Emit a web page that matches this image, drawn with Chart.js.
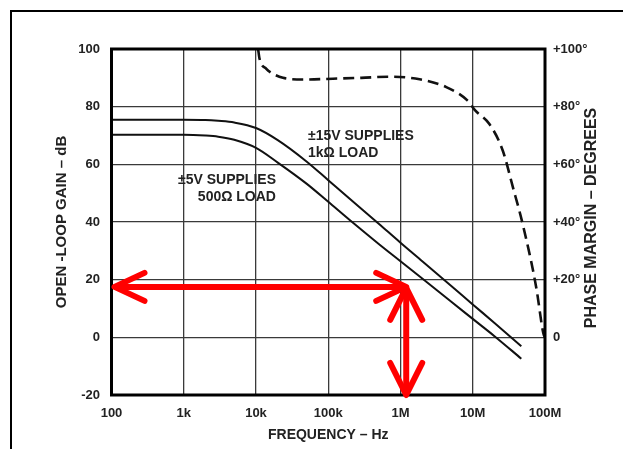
<!DOCTYPE html>
<html lang="en">
<head>
<meta charset="UTF-8">
<title>Open-Loop Gain and Phase Margin vs Frequency</title>
<script src="https://cdn.jsdelivr.net/npm/chart.js"></script>
<style>
  body { margin: 0; background: #fff; overflow: hidden; }
  .sheet { position: relative; width: 623px; height: 449px; }
  .sheet::before {
    content: '';
    position: absolute;
    left: 10px; top: 10px; right: -10px; bottom: -10px;
    border-left: 2.5px solid #000;
    border-top: 2.5px solid #000;
  }
  canvas { position: absolute; left: 0; top: 0; }
</style>
</head>
<body>
<div class="sheet">
  <canvas id="bode" width="623" height="449"></canvas>
</div>
<script>
// x axis decades and their labels
const xTicks = [1e2, 1e3, 1e4, 1e5, 1e6, 1e7, 1e8];
const xTickLabels = ['100', '1k', '10k', '100k', '1M', '10M', '100M'];

// open-loop gain (dB)
const gainFreq = [100, 1000, 2000, 3000, 5000, 1e4, 2e4, 5e4, 1e5, 2e5, 5e5, 1e6, 2e6, 5e6, 1e7, 2e7, 4.7e7];
const gain15V  = [75.5, 75.5, 75.4, 75.1, 74.5, 72.6, 68.4, 61.0, 54.5, 48.0, 39.4, 32.8, 26.4, 17.9, 11.4, 5.0, -3.1];
const gain5V   = [70.3, 70.3, 70.0, 69.6, 68.5, 65.7, 60.6, 53.3, 47.0, 40.6, 32.4, 26.4, 20.4, 12.4, 6.4, 0.4, -7.4];

// phase margin (degrees), dashed curve
const phaseFreq = [10700, 11200, 13900, 17200, 23600, 44700, 116000, 287000, 708000, 1.84e6, 4.3e6, 8.5e6, 1.08e7, 1.7e7, 2.6e7, 3.6e7, 4.9e7, 7.55e7, 9.5e7, 1e8];
const phaseDeg  = [100, 96.6, 93.1, 91.4, 90.0, 89.4, 89.7, 90.0, 90.4, 89.5, 86.8, 82.1, 78.7, 74.0, 64.8, 52.0, 39.4, 17.4, 1.3, 0];

// red marker arrows (frequency, gain)
const markFreq = 1.2e6;
const markGain = 17.5;

const ink = '#222';
const family = "'Liberation Sans', Arial, sans-serif";

const toPoints = (xs, ys) => xs.map((x, i) => ({ x: x, y: ys[i] }));

const notes = [
  { lines: ['\u00b115V SUPPLIES', '1k\u03a9 LOAD'], freq: 5.25e4, db: 69.7, align: 'left' },
  { lines: ['\u00b15V SUPPLIES', '500\u03a9 LOAD'], freq: 1.89e4, db: 54.5, align: 'right' }
];

function arrowHead(ctx, x, y, dx, dy, w, l) {
  // open chevron, tip at (x, y), pointing along (dx, dy)
  ctx.beginPath();
  ctx.moveTo(x - dx * l - dy * w, y - dy * l - dx * w);
  ctx.lineTo(x, y);
  ctx.lineTo(x - dx * l + dy * w, y - dy * l + dx * w);
  ctx.stroke();
}

const extras = {
  id: 'extras',
  afterDatasetsDraw(chart) {
    const { ctx, chartArea: a, scales } = chart;
    const sx = scales.x, sy = scales.y;
    ctx.save();

    // plot frame
    ctx.strokeStyle = '#000';
    ctx.lineWidth = 3;
    ctx.strokeRect(a.left, a.top, a.right - a.left, a.bottom - a.top);

    // curve labels
    ctx.fillStyle = ink;
    ctx.font = 'bold 14px ' + family;
    ctx.textBaseline = 'middle';
    notes.forEach(n => {
      ctx.textAlign = n.align;
      const x = sx.getPixelForValue(n.freq);
      const y = sy.getPixelForValue(n.db);
      n.lines.forEach((t, i) => ctx.fillText(t, x, y + i * 16.5));
    });

    // red arrows
    const mx = sx.getPixelForValue(markFreq);
    const my = sy.getPixelForValue(markGain);
    const left = a.left + 3;
    ctx.strokeStyle = '#ff0000';
    ctx.lineWidth = 6;
    ctx.lineCap = 'round';
    ctx.lineJoin = 'round';
    ctx.beginPath();
    ctx.moveTo(left + 2, my);
    ctx.lineTo(mx - 2, my);
    ctx.stroke();
    arrowHead(ctx, left, my, -1, 0, 14, 30);
    arrowHead(ctx, mx, my, 1, 0, 14, 30);

    ctx.beginPath();
    ctx.moveTo(mx, my + 3);
    ctx.lineTo(mx, a.bottom - 2);
    ctx.stroke();
    arrowHead(ctx, mx, my + 1, 0, -1, 16, 32);
    arrowHead(ctx, mx, a.bottom, 0, 1, 16, 32);

    ctx.restore();
  },
  afterDraw(chart) {
    // right axis title reads bottom-to-top like the left one
    const { ctx, chartArea: a } = chart;
    ctx.save();
    ctx.translate(592, (a.top + a.bottom) / 2 - 4);
    ctx.rotate(-Math.PI / 2);
    ctx.fillStyle = ink;
    ctx.font = 'bold 16px ' + family;
    ctx.textAlign = 'center';
    ctx.textBaseline = 'middle';
    ctx.fillText('PHASE MARGIN \u2013 DEGREES', 0, 0);
    ctx.restore();
  }
};

const tickFont = { family: family, size: 13, weight: 'bold' };
const gridStyle = { color: '#3a3a3a', lineWidth: 1.3, drawTicks: false };

new Chart(document.getElementById('bode'), {
  type: 'line',
  data: {
    datasets: [
      {
        label: '\u00b115V supplies, 1k\u03a9 load',
        data: toPoints(gainFreq, gain15V),
        yAxisID: 'y',
        borderColor: '#111',
        borderWidth: 2,
        pointRadius: 0,
        cubicInterpolationMode: 'monotone'
      },
      {
        label: '\u00b15V supplies, 500\u03a9 load',
        data: toPoints(gainFreq, gain5V),
        yAxisID: 'y',
        borderColor: '#111',
        borderWidth: 2,
        pointRadius: 0,
        cubicInterpolationMode: 'monotone'
      },
      {
        label: 'Phase margin',
        data: toPoints(phaseFreq, phaseDeg),
        yAxisID: 'y2',
        borderColor: '#111',
        borderWidth: 2.6,
        borderDash: [11, 6],
        pointRadius: 0,
        cubicInterpolationMode: 'monotone'
      }
    ]
  },
  options: {
    responsive: false,
    animation: false,
    devicePixelRatio: 1,
    layout: { padding: { top: 49, left: 0, right: 0, bottom: 0 } },
    plugins: {
      legend: { display: false },
      tooltip: { enabled: false }
    },
    scales: {
      x: {
        type: 'logarithmic',
        min: 1e2,
        max: 1e8,
        afterBuildTicks: s => { s.ticks = xTicks.map(v => ({ value: v })); },
        afterFit: s => { s.height = 54; },
        grid: gridStyle,
        border: { display: false },
        ticks: {
          autoSkip: false,
          maxRotation: 0,
          padding: 11,
          color: ink,
          font: tickFont,
          callback: v => xTickLabels[xTicks.indexOf(v)]
        },
        title: {
          display: true,
          text: 'FREQUENCY \u2013 Hz',
          color: ink,
          font: { family: family, size: 14, weight: 'bold' },
          padding: { top: 0, bottom: 5 }
        }
      },
      y: {
        position: 'left',
        min: -20,
        max: 100,
        afterFit: s => { s.width = 111.5; },
        grid: gridStyle,
        border: { display: false },
        ticks: { stepSize: 20, padding: 11.5, color: ink, font: tickFont },
        title: {
          display: true,
          text: 'OPEN -LOOP GAIN \u2013 dB',
          color: ink,
          font: { family: family, size: 15, weight: 'bold' },
          padding: { top: 53, bottom: 0 }
        }
      },
      y2: {
        position: 'right',
        min: -20,
        max: 100,
        afterFit: s => { s.width = 78; },
        grid: { drawOnChartArea: false, drawTicks: false },
        border: { display: false },
        ticks: {
          stepSize: 20,
          padding: 8,
          color: ink,
          font: tickFont,
          callback: v => v < 0 ? '' : (v === 0 ? '0' : '+' + v + '\u00b0')
        }
      }
    }
  },
  plugins: [extras]
});
</script>
</body>
</html>
